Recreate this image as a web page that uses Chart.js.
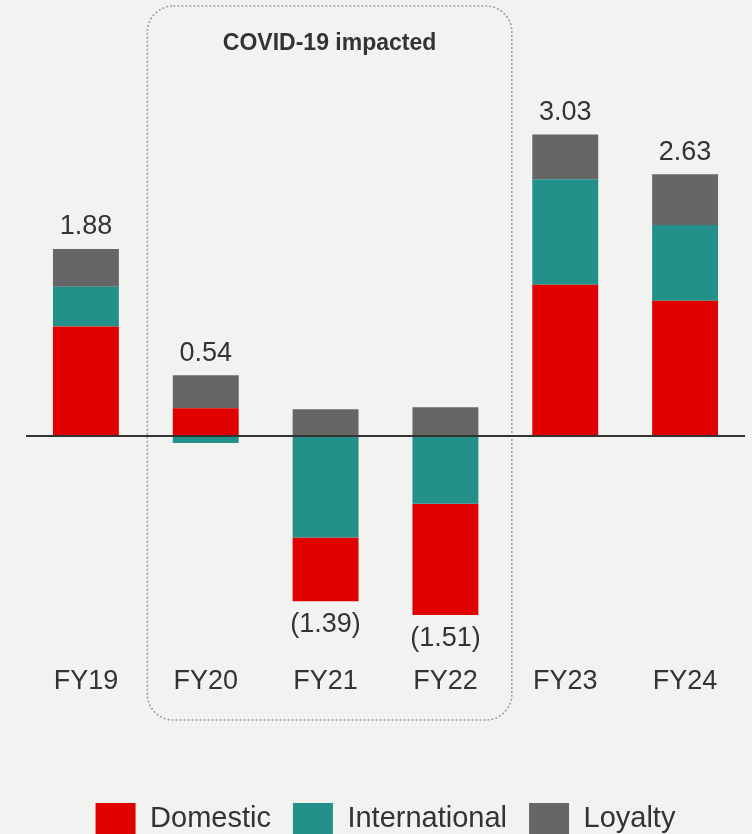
<!DOCTYPE html>
<html>
<head>
<meta charset="utf-8">
<script src="https://cdn.jsdelivr.net/npm/chart.js@4.4.1/dist/chart.umd.min.js"></script>
<style>
  html, body { margin: 0; padding: 0; background: #f2f2f0; overflow: hidden; }
  #wrap { width: 752px; height: 834px; position: relative; }
</style>
</head>
<body>
<div id="wrap"><canvas id="c"></canvas></div>
<script>
const categories = ['FY19', 'FY20', 'FY21', 'FY22', 'FY23', 'FY24'];
const domestic = [1.10, 0.28, -0.64, -1.12, 1.52, 1.36];
const international = [0.40, -0.07, -1.02, -0.68, 1.06, 0.76];
const loyalty = [0.38, 0.33, 0.27, 0.29, 0.45, 0.51];
const totals = [1.88, 0.54, -1.39, -1.51, 3.03, 2.63];
const colors = { Domestic: '#e00000', International: '#23918a', Loyalty: '#666666' };

const FONT = "'Liberation Sans', Arial, sans-serif";
const TEXT = '#333333';
const LEGEND_H = 53;

const intlNeg = international.map(v => (v < 0 ? v : null));
const intlPos = international.map(v => (v >= 0 ? v : null));

const fmt = v => (v < 0 ? '(' + Math.abs(v).toFixed(2) + ')' : v.toFixed(2));

const decorPlugin = {
  id: 'decor',
  beforeInit(chart) {
    const lg = chart.legend;
    if (lg) {
      const origFit = lg.fit;
      lg.fit = function () {
        origFit.call(this);
        this.height = LEGEND_H;
      };
    }
  },
  beforeDraw(chart) {
    const ctx = chart.ctx;
    ctx.save();
    ctx.fillStyle = '#f2f2f0';
    ctx.fillRect(0, 0, chart.width, chart.height);
    const xs = chart.scales.x;
    const left = (xs.getPixelForValue(0) + xs.getPixelForValue(1)) / 2 + 1.5;
    const right = (xs.getPixelForValue(3) + xs.getPixelForValue(4)) / 2 + 6.5;
    const top = chart.chartArea.top - 32;
    const bottom = chart.chartArea.bottom + 85;
    ctx.strokeStyle = '#a0a0a0';
    ctx.lineWidth = 1.6;
    ctx.setLineDash([2, 2]);
    ctx.beginPath();
    ctx.roundRect(left, top, right - left, bottom - top, 26);
    ctx.stroke();
    ctx.setLineDash([]);
    ctx.fillStyle = TEXT;
    ctx.font = 'bold 23px ' + FONT;
    ctx.textAlign = 'center';
    ctx.textBaseline = 'middle';
    ctx.fillText('COVID-19 impacted', (left + right) / 2, top + 38);
    ctx.restore();
  },
  afterDatasetsDraw(chart) {
    const ctx = chart.ctx;
    const ys = chart.scales.y;
    const xs = chart.scales.x;
    const area = chart.chartArea;
    ctx.save();
    const y0 = ys.getPixelForValue(0);
    ctx.strokeStyle = '#333333';
    ctx.lineWidth = 2;
    ctx.beginPath();
    ctx.moveTo(area.left, y0);
    ctx.lineTo(area.right, y0);
    ctx.stroke();
    ctx.fillStyle = TEXT;
    ctx.font = '27px ' + FONT;
    ctx.textAlign = 'center';
    ctx.textBaseline = 'middle';
    categories.forEach((c, i) => {
      const vals = [domestic[i], international[i], loyalty[i]];
      const pos = vals.filter(v => v > 0).reduce((a, b) => a + b, 0);
      const neg = vals.filter(v => v < 0).reduce((a, b) => a + b, 0);
      const x = xs.getPixelForValue(i);
      const t = totals[i];
      if (t >= 0) {
        ctx.fillText(fmt(t), x, ys.getPixelForValue(pos) - 22);
      } else {
        ctx.fillText(fmt(t), x, ys.getPixelForValue(neg) + 23);
      }
    });
    ctx.restore();
  }
};

new Chart(document.getElementById('c'), {
  type: 'bar',
  data: {
    labels: categories,
    datasets: [
      { label: 'International', data: intlNeg, backgroundColor: colors.International, legendHide: true },
      { label: 'Domestic', data: domestic, backgroundColor: colors.Domestic },
      { label: 'International', data: intlPos, backgroundColor: colors.International },
      { label: 'Loyalty', data: loyalty, backgroundColor: colors.Loyalty }
    ]
  },
  options: {
    responsive: true,
    maintainAspectRatio: false,
    animation: false,
    categoryPercentage: 0.55,
    barPercentage: 1.0,
    layout: { padding: { top: 38, left: 26, right: 7, bottom: 0 } },
    scales: {
      x: {
        stacked: true,
        grid: { display: false },
        border: { display: false },
        ticks: { color: TEXT, font: { family: FONT, size: 27 }, padding: 22 },
        afterFit(scale) { scale.height = 834 - LEGEND_H - 635; }
      },
      y: {
        stacked: true,
        display: false,
        min: -2,
        max: 4
      }
    },
    plugins: {
      legend: {
        position: 'bottom',
        labels: {
          boxWidth: 40,
          boxHeight: 31,
          padding: 22,
          color: TEXT,
          font: { family: FONT, size: 29 },
          filter: (item, data) => !data.datasets[item.datasetIndex].legendHide
        }
      },
      tooltip: { enabled: false }
    }
  },
  plugins: [decorPlugin]
});
</script>
</body>
</html>
